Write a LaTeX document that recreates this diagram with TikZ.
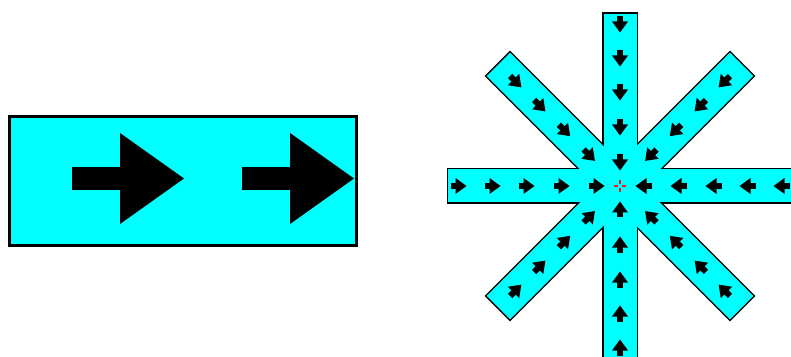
\documentclass[tikz,border=0pt]{standalone}
\definecolor{aqua}{RGB}{0,255,255}
\definecolor{crossred}{RGB}{230,30,30}
\tikzset{
  bigarrow/.pic={
    \fill[black] (0,-11.5) rectangle (49,11.5);
    \fill[black] (48,45.5) -- (112,0) -- (48,-45.5) -- cycle;
  },
  sarrow/.pic={
    \fill[black] (-7.5,-3) rectangle (0,3);
    \fill[black] (-2.5,8) -- (8.5,0) -- (-2.5,-8) -- cycle;
  },
  outline/.style={draw=black, fill=aqua, line width=3pt},
  inner/.style={fill=aqua}
}
\begin{document}
\begin{tikzpicture}[x=1pt,y=1pt]
\useasboundingbox (0,0) rectangle (791,356);
\clip (0,0) rectangle (791,356);
% left panel
\draw[fill=aqua, line width=3.5pt] (9.5,110.5) rectangle (356.5,239.5);
\pic at (72,177.5) {bigarrow};
\pic at (242,177.5) {bigarrow};
% star
\coordinate (c) at (620,170);
\foreach \a in {0,45,90,135}{
  \begin{scope}[shift={(c)}, rotate=\a]
    \path[outline] (-172,-16.5) rectangle (172,16.5);
  \end{scope}
}
\foreach \a in {0,45,90,135}{
  \begin{scope}[shift={(c)}, rotate=\a]
    \path[inner] (-172,-16.5) rectangle (172,16.5);
  \end{scope}
}
\foreach \a in {0,90,180,270}{
  \foreach \d in {24,59,94,128,162}{
    \begin{scope}[shift={(c)}, rotate=\a]
      \pic[transform shape, rotate=180] at (\d,0) {sarrow};
    \end{scope}
  }
}
\foreach \a in {45,135,225,315}{
  \foreach \d in {44,79,114,148}{
    \begin{scope}[shift={(c)}, rotate=\a]
      \pic[transform shape, rotate=180] at (\d,0) {sarrow};
    \end{scope}
  }
}
% red crosshair
\begin{scope}[shift={(c)}]
  \draw[crossred, line width=2pt] (-6,0) -- (-2,0) (2,0) -- (6,0) (0,-6) -- (0,-2) (0,2) -- (0,6);
\end{scope}
\end{tikzpicture}
\end{document}
